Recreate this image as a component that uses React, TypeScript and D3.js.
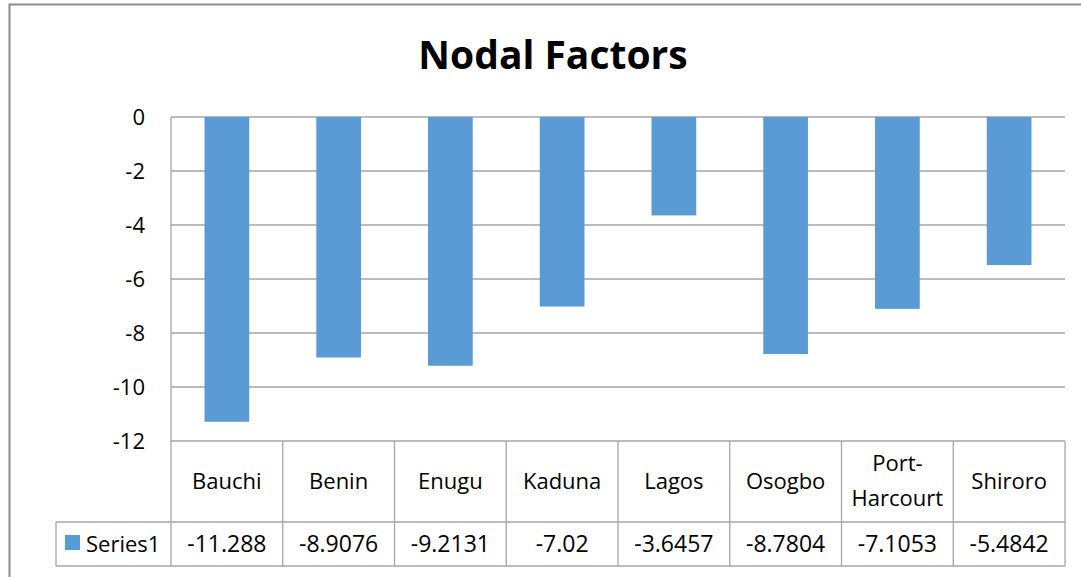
import React from 'react';
import * as d3 from 'd3';

// chart data
const categories = ['Bauchi', 'Benin', 'Enugu', 'Kaduna', 'Lagos', 'Osogbo', 'Port-Harcourt', 'Shiroro'];
const seriesName = 'Series1';
const values = [-11.288, -8.9076, -9.2131, -7.02, -3.6457, -8.7804, -7.1053, -5.4842];
const valueLabels = ['-11.288', '-8.9076', '-9.2131', '-7.02', '-3.6457', '-8.7804', '-7.1053', '-5.4842'];
const yTicks = [0, -2, -4, -6, -8, -10, -12];

const W = 1081;
const H = 577;
const font = '"Open Sans", "Liberation Sans", sans-serif';
const barColor = '#5B9BD5';
const gridColor = '#a6a6a6';

export default function App() {
  const left = 171, right = 1065, top = 117, bottom = 441;
  const catBottom = 522, tableBottom = 566, legendLeft = 56;

  const x = d3.scaleBand<string>().domain(categories).range([left, right]).paddingInner(0.6).paddingOuter(0.3);
  const y = d3.scaleLinear().domain([-12, 0]).range([bottom, top]);
  const band = d3.scaleBand<string>().domain(categories).range([left, right]);

  return (
    <svg width={W} height={H} style={{ position: 'absolute', left: 0, top: 0, fontFamily: font }}>
      <rect x={0} y={0} width={W} height={H} fill="#fff" />
      {/* outer chart border */}
      <rect x={9.5} y={4.5} width={1100} height={600} fill="none" stroke="#8c8c8c" strokeWidth={2} />

      <text x={553} y={69} textAnchor="middle" fontSize={39} fontWeight="bold" fill="#000">Nodal Factors</text>

      {/* gridlines */}
      {yTicks.map(t => (
        <line key={t} x1={left} x2={right} y1={y(t)} y2={y(t)} stroke={gridColor} strokeWidth={1.3} />
      ))}
      <line x1={left} x2={left} y1={top} y2={bottom} stroke={gridColor} strokeWidth={1.3} />

      {/* y labels */}
      {yTicks.map(t => (
        <text key={'l' + t} x={145} y={y(t) + 8} textAnchor="end" fontSize={22} fill="#000">{t}</text>
      ))}

      {/* bars */}
      {categories.map((c, i) => (
        <rect key={c} x={x(c)} y={y(0)} width={x.bandwidth()} height={y(values[i]) - y(0)} fill={barColor} />
      ))}

      {/* data table */}
      <g stroke={gridColor} strokeWidth={1.3} fill="none">
        <line x1={left} x2={left} y1={bottom} y2={tableBottom} />
        {categories.map(c => (
          <line key={'v' + c} x1={(band(c) as number) + band.bandwidth()} x2={(band(c) as number) + band.bandwidth()} y1={bottom} y2={tableBottom} />
        ))}
        <line x1={legendLeft} x2={right} y1={catBottom} y2={catBottom} />
        <line x1={legendLeft} x2={right} y1={tableBottom} y2={tableBottom} />
        <line x1={legendLeft} x2={legendLeft} y1={catBottom} y2={tableBottom} />
      </g>

      {categories.map(c => {
        const cx = (band(c) as number) + band.bandwidth() / 2;
        const parts = c === 'Port-Harcourt' ? ['Port-', 'Harcourt'] : [c];
        return parts.length === 1 ? (
          <text key={'c' + c} x={cx} y={489} textAnchor="middle" fontSize={22} fill="#000">{c}</text>
        ) : (
          <text key={'c' + c} x={cx} textAnchor="middle" fontSize={22} fill="#000">
            <tspan x={cx} y={471}>{parts[0]}</tspan>
            <tspan x={cx} y={506}>{parts[1]}</tspan>
          </text>
        );
      })}

      {categories.map((c, i) => (
        <text key={'n' + c} x={(band(c) as number) + band.bandwidth() / 2} y={552} textAnchor="middle" fontSize={23} fill="#000">{valueLabels[i]}</text>
      ))}

      <rect x={65} y={535} width={15} height={15} fill={barColor} />
      <text x={86} y={552} fontSize={22} fill="#000">{seriesName}</text>
    </svg>
  );
}
